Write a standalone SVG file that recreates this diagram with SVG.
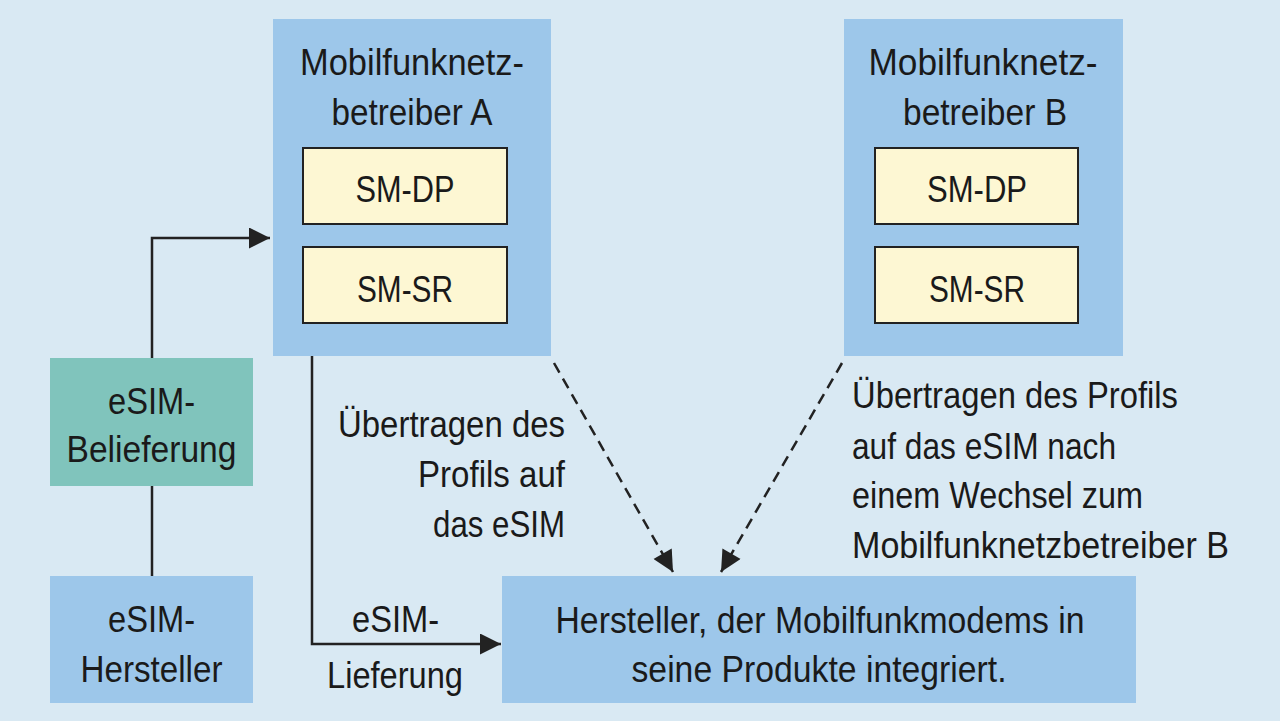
<svg xmlns="http://www.w3.org/2000/svg" width="1280" height="721" viewBox="0 0 1280 721">
<defs>
<style>
.bg{fill:#d9e9f3}
.op{fill:#9dc7ea}
.sm{fill:#fdf7d3;stroke:#222;stroke-width:2}
.teal{fill:#80c4bc}
.t{font-family:"Liberation Sans",Arial,sans-serif;font-size:36px;fill:#1a1a1a}
.c{text-anchor:middle}
.e{text-anchor:end}
.ln{fill:none;stroke:#222;stroke-width:2.5}
.dash{stroke-dasharray:11 7}
</style>
<marker id="ah" viewBox="0 0 10 10" refX="10" refY="5" markerUnits="userSpaceOnUse" markerWidth="23" markerHeight="21" orient="auto">
<path d="M0,0 L10,5 L0,10 z" fill="#222"/>
</marker>
</defs>
<rect class="bg" x="0" y="0" width="1280" height="721"/>

<g id="connectors">
<path class="ln" d="M152,486 V576"/>
<path class="ln" d="M152,358 V238 H270" marker-end="url(#ah)"/>
<path class="ln" d="M312,356 V644 H501" marker-end="url(#ah)"/>
<path class="ln dash" d="M554,363 L673,572" marker-end="url(#ah)"/>
<path class="ln dash" d="M842,363 L721,572" marker-end="url(#ah)"/>
</g>

<g id="betreiberA">
<rect class="op" x="273" y="19" width="278" height="337"/>
<text class="t c" x="412" y="75" textLength="224" lengthAdjust="spacingAndGlyphs">Mobilfunknetz-</text>
<text class="t c" x="412" y="125" textLength="161" lengthAdjust="spacingAndGlyphs">betreiber A</text>
</g>
<g id="smdpA">
<rect class="sm" x="303" y="148" width="204" height="76"/>
<text class="t c" x="405" y="202" textLength="99" lengthAdjust="spacingAndGlyphs">SM-DP</text>
</g>
<g id="smsrA">
<rect class="sm" x="303" y="247" width="204" height="76"/>
<text class="t c" x="405" y="302" textLength="96" lengthAdjust="spacingAndGlyphs">SM-SR</text>
</g>

<g id="betreiberB">
<rect class="op" x="844" y="19" width="279" height="337"/>
<text class="t c" x="983" y="75" textLength="229" lengthAdjust="spacingAndGlyphs">Mobilfunknetz-</text>
<text class="t c" x="985" y="125" textLength="164" lengthAdjust="spacingAndGlyphs">betreiber B</text>
</g>
<g id="smdpB">
<rect class="sm" x="875" y="148" width="203" height="76"/>
<text class="t c" x="977" y="202" textLength="100" lengthAdjust="spacingAndGlyphs">SM-DP</text>
</g>
<g id="smsrB">
<rect class="sm" x="875" y="247" width="203" height="76"/>
<text class="t c" x="977" y="302" textLength="96" lengthAdjust="spacingAndGlyphs">SM-SR</text>
</g>

<g id="belieferung">
<rect class="teal" x="50" y="358" width="203" height="128"/>
<text class="t c" x="151.5" y="414" textLength="87" lengthAdjust="spacingAndGlyphs">eSIM-</text>
<text class="t c" x="151.5" y="462" textLength="170" lengthAdjust="spacingAndGlyphs">Belieferung</text>
</g>

<g id="esimHersteller">
<rect class="op" x="50" y="576" width="203" height="127"/>
<text class="t c" x="151.5" y="632" textLength="87" lengthAdjust="spacingAndGlyphs">eSIM-</text>
<text class="t c" x="151.5" y="682" textLength="142" lengthAdjust="spacingAndGlyphs">Hersteller</text>
</g>

<g id="hersteller">
<rect class="op" x="502" y="576" width="634" height="127"/>
<text class="t c" x="820" y="633" textLength="529" lengthAdjust="spacingAndGlyphs">Hersteller, der Mobilfunkmodems in</text>
<text class="t c" x="819" y="682" textLength="375" lengthAdjust="spacingAndGlyphs">seine Produkte integriert.</text>
</g>

<g id="labels">
<text class="t e" x="565" y="437" textLength="227" lengthAdjust="spacingAndGlyphs">Übertragen des</text>
<text class="t e" x="565" y="487" textLength="147" lengthAdjust="spacingAndGlyphs">Profils auf</text>
<text class="t e" x="565" y="537" textLength="132" lengthAdjust="spacingAndGlyphs">das eSIM</text>
<text class="t" x="352" y="632" textLength="87" lengthAdjust="spacingAndGlyphs">eSIM-</text>
<text class="t" x="327" y="688" textLength="136" lengthAdjust="spacingAndGlyphs">Lieferung</text>
<text class="t" x="852" y="408" textLength="326" lengthAdjust="spacingAndGlyphs">Übertragen des Profils</text>
<text class="t" x="852" y="459" textLength="264" lengthAdjust="spacingAndGlyphs">auf das eSIM nach</text>
<text class="t" x="852" y="508" textLength="291" lengthAdjust="spacingAndGlyphs">einem Wechsel zum</text>
<text class="t" x="852" y="558" textLength="377" lengthAdjust="spacingAndGlyphs">Mobilfunknetzbetreiber B</text>
</g>
</svg>
